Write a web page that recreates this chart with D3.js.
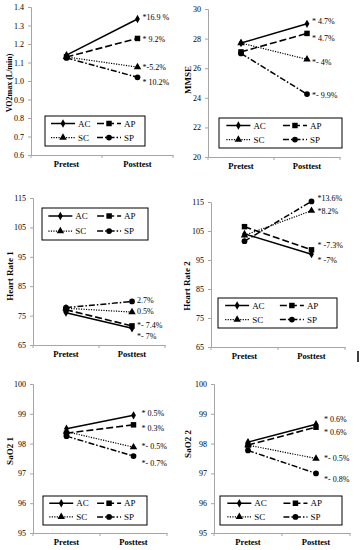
<!DOCTYPE html>
<html><head><meta charset="utf-8">
<script src="https://cdn.jsdelivr.net/npm/d3@7/dist/d3.min.js"></script>
<style>html,body{margin:0;padding:0;background:#fff;}svg{display:block;}</style>
</head><body>
<script>
// ---- data ----
const categories = ["Pretest", "Posttest"];
const seriesNames = ["AC", "AP", "SC", "SP"];

const vo2max = [[1.14, 1.335], [1.13, 1.23], [1.13, 1.075], [1.125, 1.02]];
const vo2Labels = ["*16.9 %", "* 9.2%", "*-5.2%", "* 10.2%"];
const vo2Ticks = [0.6, 0.7, 0.8, 0.9, 1.0, 1.1, 1.2, 1.3, 1.4];

const mmse = [[27.7, 29.0], [27.1, 28.35], [27.7, 26.6], [27.0, 24.25]];
const mmseLabels = ["* 4.7%", "* 4.7%", "*- 4%", "*- 9.9%"];
const mmseTicks = [20, 22, 24, 26, 28, 30];

const hr1 = [[76.0, 70.7], [77.0, 71.5], [77.5, 76.2], [77.7, 79.8]];
const hr1Labels = ["*- 7%", "*- 7.4%", "0.5%", "2.7%"];
const hr1Ticks = [65, 75, 85, 95, 105, 115];

const hr2 = [[104.0, 97.0], [106.5, 98.5], [103.5, 112.0], [101.5, 115.2]];
const hr2Labels = ["* -7%", "* -7.3%", "*8.2%", "*13.6%"];
const hr2Ticks = [65, 75, 85, 95, 105, 115];

const sao2a = [[98.5, 98.95], [98.35, 98.63], [98.4, 97.88], [98.25, 97.58]];
const sao2aLabels = ["* 0.5%", "* 0.3%", "*- 0.5%", "*- 0.7%"];
const sao2aTicks = [95, 96, 97, 98, 99, 100];

const sao2b = [[98.05, 98.65], [97.95, 98.55], [97.95, 97.5], [97.77, 97.0]];
const sao2bLabels = ["* 0.6%", "* 0.6%", "*- 0.5%", "*- 0.8%"];
const sao2bTicks = [95, 96, 97, 98, 99, 100];

// ---- layout / style ----
const panels = [
  {values: vo2max, labels: vo2Labels, ticks: vo2Ticks, title: "VO2max (L/min)", fmt: ".1f",
   x0: 31, x1: 173, y0: 7, y1: 155, tx: 9, ty: 83, ts: 8,
   lg: {x: 45, y: 116, w: 100, h: 30}, ldx: 5, ldy: [-2, 1, 0, 5]},
  {values: mmse, labels: mmseLabels, ticks: mmseTicks, title: "MMSE", fmt: "d",
   x0: 208, x1: 340, y0: 9, y1: 157, tx: 188, ty: 80, ts: 9,
   lg: {x: 219, y: 118, w: 123, h: 30}, ldx: 5, ldy: [-2, 5, 3, 1]},
  {values: hr1, labels: hr1Labels, ticks: hr1Ticks, title: "Heart Rate 1", fmt: "d",
   x0: 33, x1: 165, y0: 198, y1: 345, tx: 10, ty: 276, ts: 9,
   lg: {x: 42, y: 208, w: 106, h: 32}, ldx: 5, ldy: [8, 0, -1, -1]},
  {values: hr2, labels: hr2Labels, ticks: hr2Ticks, title: "Heart Rate 2", fmt: "d",
   x0: 211, x1: 345, y0: 202, y1: 347, tx: 187, ty: 286, ts: 9,
   lg: {x: 218, y: 298, w: 119, h: 30}, ldx: 6, ldy: [6, -4, 1, -3]},
  {values: sao2a, labels: sao2aLabels, ticks: sao2aTicks, title: "SaO2 1", fmt: "d",
   x0: 33, x1: 167, y0: 384, y1: 533, tx: 10, ty: 451, ts: 9,
   lg: {x: 43, y: 496, w: 104, h: 29}, ldx: 8, ldy: [-2, 4, -1, 7]},
  {values: sao2b, labels: sao2bLabels, ticks: sao2bTicks, title: "SaO2 2", fmt: "d",
   x0: 214, x1: 350, y0: 384, y1: 533, tx: 188, ty: 444, ts: 9,
   lg: {x: 220, y: 496, w: 122, h: 29}, ldx: 8, ldy: [-5, 5, 0, 6]}
];

const styles = {
  AC: {dash: null, width: 1.5, sym: d3.symbolDiamond, size: 20},
  AP: {dash: "7,3", width: 1.6, sym: d3.symbolSquare, size: 30},
  SC: {dash: "1.2,1.3", width: 1.2, sym: d3.symbolTriangle, size: 24},
  SP: {dash: "6,2,1.5,2", width: 1.5, sym: d3.symbolCircle, size: 26}
};
const FONT = "'Liberation Serif','Times New Roman',serif";
const AXIS = "#a6a6a6";

const svg = d3.select("body").append("svg").attr("width", 364).attr("height", 550)
  .style("font-family", FONT);

panels.forEach(p => {
  const g = svg.append("g");
  const yDom = d3.extent(p.ticks);
  const y = d3.scaleLinear().domain(yDom).range([p.y1, p.y0]);
  const x = d3.scaleBand().domain(categories).range([p.x0, p.x1]);
  const cx = c => x(c) + x.bandwidth() / 2;

  // y axis
  const ya = g.append("g").attr("transform", `translate(${p.x0},0)`)
    .call(d3.axisLeft(y).tickValues(p.ticks).tickFormat(d3.format(p.fmt)).tickSize(3).tickPadding(4));
  ya.select(".domain").attr("stroke", AXIS);
  ya.selectAll(".tick line").attr("stroke", AXIS);
  ya.selectAll("text").attr("font-family", FONT).attr("font-size", 8).attr("fill", "#000");

  // x axis
  const xa = g.append("g").attr("transform", `translate(0,${p.y1})`)
    .call(d3.axisBottom(x).tickSize(0).tickPadding(6));
  xa.select(".domain").attr("stroke", AXIS);
  xa.selectAll(".tick line").remove();
  xa.selectAll("text").attr("font-family", FONT).attr("font-size", 8.5)
    .attr("font-weight", "bold").attr("fill", "#000");
  const xt = [p.x0, (p.x0 + p.x1) / 2, p.x1];
  g.selectAll(".xtk").data(xt).join("line").attr("x1", d => d).attr("x2", d => d)
    .attr("y1", p.y1).attr("y2", p.y1 + 3).attr("stroke", AXIS);

  // title
  g.append("text").attr("transform", `translate(${p.tx},${p.ty}) rotate(-90)`)
    .attr("text-anchor", "middle").attr("dominant-baseline", "central")
    .attr("font-size", p.ts).attr("font-weight", "bold").attr("fill", "#000").text(p.title);

  // series
  const line = d3.line().x((d, i) => cx(categories[i])).y(d => y(d));
  seriesNames.forEach((s, si) => {
    const st = styles[s];
    const vals = p.values[si];
    g.append("path").attr("d", line(vals)).attr("fill", "none").attr("stroke", "#000")
      .attr("stroke-width", st.width).attr("stroke-dasharray", st.dash);
    vals.forEach((v, i) => {
      g.append("path").attr("d", d3.symbol(st.sym, st.size)())
        .attr("transform", `translate(${cx(categories[i])},${y(v)})`).attr("fill", "#000");
    });
    g.append("text").attr("x", cx(categories[1]) + p.ldx).attr("y", y(vals[1]) + p.ldy[si])
      .attr("dominant-baseline", "central").attr("font-size", 8).attr("fill", "#000")
      .text(p.labels[si]);
  });

  // legend
  const L = p.lg;
  g.append("rect").attr("x", L.x).attr("y", L.y).attr("width", L.w).attr("height", L.h)
    .attr("fill", "#fff").attr("stroke", "#000").attr("stroke-width", 1);
  seriesNames.forEach((s, si) => {
    const st = styles[s];
    const col = si % 2, row = Math.floor(si / 2);
    const sx = L.x + (col === 0 ? L.w * 0.06 : L.w * 0.52);
    const sy = L.y + (row === 0 ? L.h * 0.25 : L.h * 0.72);
    const sw = 24;
    g.append("line").attr("x1", sx).attr("x2", sx + sw).attr("y1", sy).attr("y2", sy)
      .attr("stroke", "#000").attr("stroke-width", st.width).attr("stroke-dasharray", st.dash);
    g.append("path").attr("d", d3.symbol(st.sym, st.size)())
      .attr("transform", `translate(${sx + sw / 2},${sy})`).attr("fill", "#000");
    g.append("text").attr("x", sx + sw + 3).attr("y", sy).attr("dominant-baseline", "central")
      .attr("font-size", 9).attr("fill", "#000").text(s);
  });
});

// stray mark present in the source image
svg.append("line").attr("x1", 358).attr("x2", 358).attr("y1", 351).attr("y2", 362)
  .attr("stroke", "#000").attr("stroke-width", 1.5);
</script>
</body></html>
